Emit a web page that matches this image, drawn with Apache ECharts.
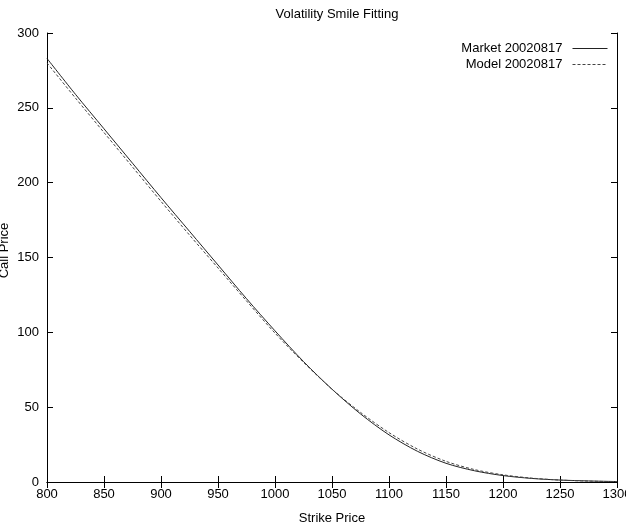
<!DOCTYPE html>
<html>
<head>
<meta charset="utf-8">
<script src="https://cdn.jsdelivr.net/npm/echarts@6/dist/echarts.min.js"></script>
<style>
  html, body { margin: 0; padding: 0; background: #fff; }
  #chart { width: 626px; height: 528px; }
</style>
</head>
<body>
<div id="chart"></div>
<script>
const strikes = [800, 825, 850, 875, 900, 925, 950, 975, 1000, 1025, 1050,
  1075, 1100, 1125, 1150, 1175, 1200, 1225, 1250, 1275, 1300]
const market = [283, 259, 236, 213, 190, 167.5, 145, 122.5, 101, 80.5, 62,
  45.5, 31.5, 20.5, 12.5, 7.5, 4.3, 2.4, 1.3, 0.7, 0.3]
const model = [280, 256.5, 233.5, 210.5, 187.5, 165, 143, 121, 99.5, 80, 62,
  46.5, 33, 22, 13.8, 8.3, 4.8, 2.6, 1.3, 0.6, 0.2]
const seriesNames = ['Market 20020817', 'Model 20020817']

const font = 'Liberation Sans, Arial, sans-serif'
const axisLine = { show: true, lineStyle: { color: '#000', width: 1 } }
const tick = { show: true, inside: true, length: 6, lineStyle: { color: '#000' } }
const plain = v => String(v)

const chart = echarts.init(document.getElementById('chart'))

const pair = (xs, ys) => xs.map((x, i) => [x, ys[i]])

chart.setOption({
  animation: false,
  backgroundColor: '#fff',
  textStyle: { fontFamily: font },
  title: {
    text: 'Volatility Smile Fitting',
    left: 332,
    textAlign: 'center',
    top: 3,
    textStyle: { fontSize: 13, fontWeight: 'normal', color: '#000', fontFamily: font }
  },
  legend: {
    orient: 'vertical',
    right: 13,
    top: 37,
    align: 'right',
    itemWidth: 35,
    itemHeight: 8,
    itemGap: 3,
    itemStyle: { opacity: 0 },
    lineStyle: { width: 1 },
    textStyle: { fontSize: 13, color: '#000', fontFamily: font, padding: [0, 5, 0, 0] },
    data: seriesNames
  },
  grid: { left: 47, right: 9, top: 33, bottom: 46, containLabel: false, outerBoundsMode: 'none' },
  xAxis: [{
    type: 'value',
    min: 800, max: 1300, interval: 50,
    name: 'Strike Price',
    nameLocation: 'middle',
    nameGap: 30,
    nameMoveOverlap: false,
    nameTextStyle: { fontSize: 13, color: '#000', fontFamily: font },
    axisLine, axisTick: tick,
    axisLabel: { color: '#000', fontSize: 13, margin: 6, fontFamily: font, formatter: plain },
    splitLine: { show: false }
  }, {
    type: 'value', position: 'top',
    min: 800, max: 1300, interval: 50,
    axisLine, axisTick: tick,
    axisLabel: { show: false },
    splitLine: { show: false }
  }],
  yAxis: [{
    type: 'value',
    min: 0, max: 300, interval: 50,
    name: 'Call Price',
    nameLocation: 'middle',
    nameGap: 36,
    nameRotate: 90,
    nameMoveOverlap: false,
    nameTextStyle: { fontSize: 13, color: '#000', fontFamily: font, padding: [0, 0, 0, 14] },
    axisLine, axisTick: tick,
    axisLabel: { color: '#000', fontSize: 13, margin: 8, fontFamily: font, formatter: plain },
    splitLine: { show: false }
  }, {
    type: 'value', position: 'right',
    min: 0, max: 300, interval: 50,
    axisLine, axisTick: tick,
    axisLabel: { show: false },
    splitLine: { show: false }
  }],
  series: [{
    name: seriesNames[0],
    type: 'line',
    smooth: 0.3,
    symbol: 'none',
    data: pair(strikes, market),
    lineStyle: { color: '#222', width: 1 },
    itemStyle: { color: '#222' }
  }, {
    name: seriesNames[1],
    type: 'line',
    smooth: 0.3,
    symbol: 'none',
    data: pair(strikes, model),
    lineStyle: { color: '#444', width: 1, type: [3, 2] },
    itemStyle: { color: '#444' }
  }]
})
</script>
</body>
</html>
